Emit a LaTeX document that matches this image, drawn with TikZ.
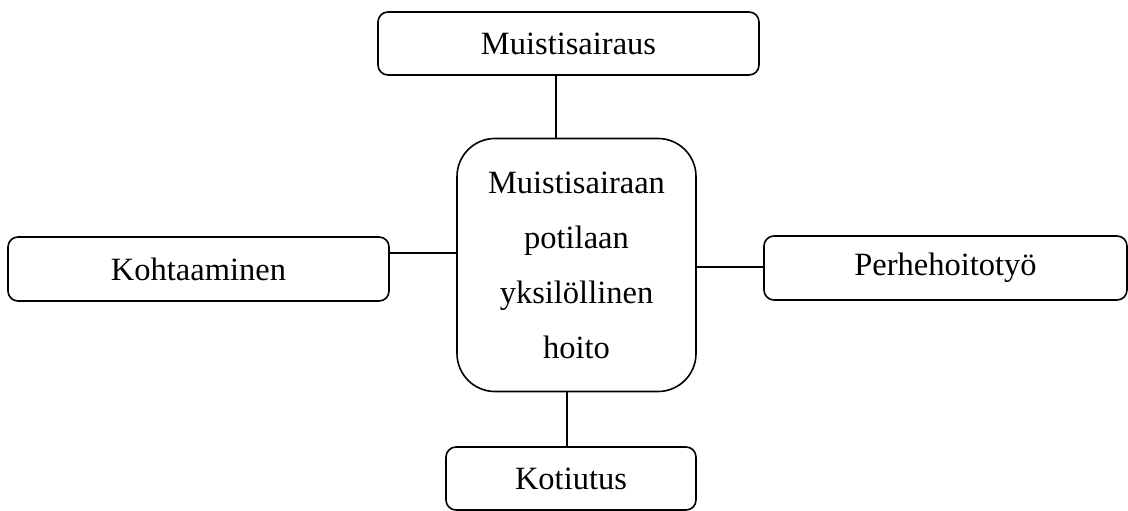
\documentclass[tikz,border=0pt]{standalone}
\usepackage{fontspec}
\setmainfont{Liberation Serif}
\begin{document}
\begin{tikzpicture}[x=1pt,y=-1pt,
  box/.style={draw=black, line width=1.6pt, rounded corners=10pt, inner sep=0pt,
    font=\fontsize{32.5}{38}\selectfont, align=center},
  link/.style={draw=black, line width=1.6pt}]
\useasboundingbox (0,0) rectangle (1128,511);
\node[box, minimum width=381pt, minimum height=63pt] (top) at (568.5,43.5) {Muistisairaus};
\node[box, minimum width=239pt, minimum height=253pt, rounded corners=38pt,
  font=\fontsize{32.5}{55}\selectfont] (mid) at (576.5,265) {Muistisairaan\\potilaan\\yksilöllinen\\hoito};
\node[box, minimum width=381pt, minimum height=64pt] (left) at (198.5,269) {Kohtaaminen};
\node[box, minimum width=363pt, minimum height=64pt] (right) at (945.5,268) {Perhehoitotyö};
\node[box, minimum width=250pt, minimum height=63pt] (bot) at (571,478.5) {Kotiutus};
\coordinate (ct) at (556,0);
\coordinate (cl) at (0,253);
\coordinate (cr) at (0,267);
\coordinate (cb) at (567,0);
\draw[link] (top.south -| ct) -- (mid.north -| ct);
\draw[link] (left.east |- cl) -- (mid.west |- cl);
\draw[link] (mid.east |- cr) -- (right.west |- cr);
\draw[link] (mid.south -| cb) -- (bot.north -| cb);
\end{tikzpicture}
\end{document}
